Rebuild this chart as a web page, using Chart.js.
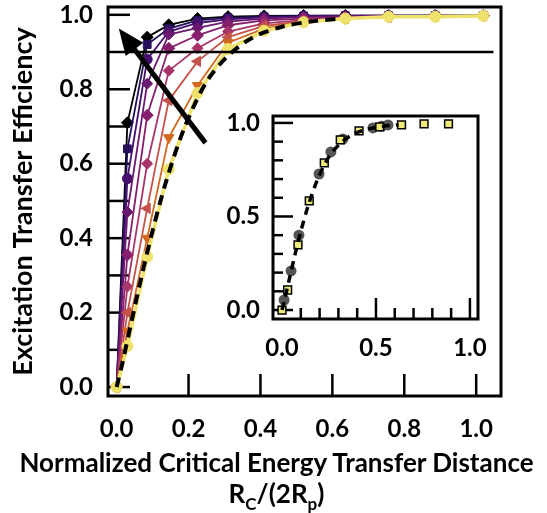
<!DOCTYPE html>
<html><head><meta charset="utf-8">
<script src="https://cdn.jsdelivr.net/npm/chart.js@4.4.0/dist/chart.umd.min.js"></script>
<style>
html,body{margin:0;padding:0;background:#fff;}
#wrap{position:relative;width:547px;height:513px;overflow:hidden;background:#fff;}
#main{position:absolute;left:0;top:0;}
#inset{position:absolute;left:215px;top:106px;}
.xt{position:absolute;left:3px;width:547px;text-align:center;font-family:Lato,sans-serif;font-weight:bold;color:#000;white-space:nowrap;font-size:26px;line-height:32px;}
.sub{font-size:17px;position:relative;top:7px;}
</style></head><body>
<div id="wrap">
<canvas id="main" width="547" height="513"></canvas>
<canvas id="inset" width="273" height="269"></canvas>
<div class="xt" style="top:446px;">Normalized Critical Energy Transfer Distance</div>
<div class="xt" style="top:477px;">R<span class="sub">C</span>/(2R<span class="sub">p</span>)</div>
</div>
<script>
// ---------- data ----------
const xVals   = [0, 0.03, 0.085, 0.145, 0.225, 0.31, 0.41, 0.52, 0.636, 0.756, 0.886, 1.02];
const sBlack  = [0, 0.71, 0.94, 0.973, 0.99, 0.995, 0.997, 0.998, 0.998, 0.998, 0.998, 0.998];
const sNavy   = [0, 0.64, 0.92, 0.963, 0.985, 0.992, 0.995, 0.997, 0.998, 0.998, 0.998, 0.998];
const sIndigo = [0, 0.56, 0.88, 0.955, 0.978, 0.988, 0.993, 0.996, 0.997, 0.998, 0.998, 0.998];
const sPurple = [0, 0.47, 0.815, 0.947, 0.965, 0.982, 0.99, 0.994, 0.996, 0.997, 0.997, 0.997];
const sMagenta= [0, 0.355, 0.73, 0.91, 0.945, 0.972, 0.985, 0.99, 0.994, 0.996, 0.997, 0.997];
const sRed    = [0, 0.27, 0.60, 0.85, 0.91, 0.955, 0.977, 0.986, 0.992, 0.995, 0.996, 0.997];
const sBrown  = [0, 0.20, 0.48, 0.77, 0.875, 0.94, 0.97, 0.983, 0.99, 0.994, 0.996, 0.997];
const sOrange = [0, 0.15, 0.40, 0.67, 0.81, 0.925, 0.963, 0.982, 0.99, 0.994, 0.995, 0.997];
const sYellow = [0, 0.11, 0.35, 0.585, 0.79, 0.908, 0.957, 0.98, 0.99, 0.995, 0.995, 0.997];

const fitX = [0, 0.015, 0.04, 0.07, 0.10, 0.14, 0.19, 0.25, 0.31, 0.38, 0.46, 0.54, 0.62];
const fitY = [0, 0.06, 0.17, 0.30, 0.42, 0.56, 0.70, 0.82, 0.89, 0.94, 0.968, 0.982, 0.99];

const expX = [0.011, 0.048, 0.09, 0.197, 0.26, 0.324, 0.484, 0.53, 0.564];
const expY = [0.053, 0.209, 0.40, 0.727, 0.845, 0.914, 0.973, 0.982, 0.989];

const insetSimX = [0, 0.03, 0.085, 0.145, 0.225, 0.31, 0.41, 0.52, 0.636, 0.756, 0.886];
const insetSimY = [0, 0.107, 0.348, 0.583, 0.786, 0.909, 0.957, 0.979, 0.989, 0.995, 0.995];

const refLineX = [-0.024, 1.048];
const refLineY = 0.9;
const arrowFrom = [0.247, 0.656];
const arrowTo = [0.006, 0.963];

const mainXTicks = [0, 0.2, 0.4, 0.6, 0.8, 1.0];
const mainXTickLabels = ['0.0', '0.2', '0.4', '0.6', '0.8', '1.0'];
const mainYTicks = [0, 0.2, 0.4, 0.6, 0.8, 1.0];
const mainYTickLabels = ['0.0', '0.2', '0.4', '0.6', '0.8', '1.0'];
const insetXTicks = [0, 0.5, 1.0];
const insetXTickLabels = ['0.0', '0.5', '1.0'];
const insetYTicks = [0, 0.5, 1.0];
const insetYTickLabels = ['0.0', '0.5', '1.0'];

// ---------- helpers ----------
const pts = (xs, ys) => xs.map((x, i) => ({x: x, y: ys[i]}));
const FONT = 'Lato';
const tickFont = {family: FONT, weight: 'bold', size: 24};

function series(label, ys, color, style, rot, radius, width, order) {
  return {label: label, data: pts(xVals, ys), borderColor: color, backgroundColor: color,
    pointStyle: style, pointRotation: rot, pointRadius: radius, pointBorderWidth: 1,
    pointBorderColor: color, borderWidth: width, tension: 0, order: order};
}

function fixSize(prop, val) {
  return s => {
    s[prop] = val;
    s.paddingTop = 0; s.paddingBottom = 0; s.paddingLeft = 0; s.paddingRight = 0;
  };
}

function framePlugin(id, marks, frameW) {
  return {
    id: id,
    beforeDatasetsDraw(chart) {
      const ctx = chart.ctx, a = chart.chartArea, xs = chart.scales.x, ys = chart.scales.y;
      ctx.save();
      ctx.strokeStyle = '#000';
      ctx.lineWidth = 2.5;
      marks.y.forEach(m => {
        const p = ys.getPixelForValue(m[0]);
        ctx.beginPath(); ctx.moveTo(a.left, p); ctx.lineTo(a.left + m[1], p); ctx.stroke();
      });
      marks.x.forEach(m => {
        const p = xs.getPixelForValue(m[0]);
        ctx.beginPath(); ctx.moveTo(p, a.bottom); ctx.lineTo(p, a.bottom - m[1]); ctx.stroke();
      });
      ctx.lineWidth = frameW;
      ctx.strokeRect(a.left, a.top, a.right - a.left, a.bottom - a.top);
      ctx.restore();
    }
  };
}

const arrowPlugin = {
  id: 'arrow',
  afterDatasetsDraw(chart) {
    const ctx = chart.ctx, xs = chart.scales.x, ys = chart.scales.y;
    const x0 = xs.getPixelForValue(arrowFrom[0]), y0 = ys.getPixelForValue(arrowFrom[1]);
    const x1 = xs.getPixelForValue(arrowTo[0]), y1 = ys.getPixelForValue(arrowTo[1]);
    const ang = Math.atan2(y1 - y0, x1 - x0);
    const hl = 26, hw = 11;
    const bx = x1 - hl * Math.cos(ang), by = y1 - hl * Math.sin(ang);
    ctx.save();
    ctx.strokeStyle = '#000'; ctx.fillStyle = '#000'; ctx.lineWidth = 5; ctx.lineCap = 'butt';
    ctx.beginPath(); ctx.moveTo(x0, y0); ctx.lineTo(bx + 2 * Math.cos(ang), by + 2 * Math.sin(ang)); ctx.stroke();
    ctx.beginPath();
    ctx.moveTo(x1, y1);
    ctx.lineTo(bx + hw * Math.sin(ang), by - hw * Math.cos(ang));
    ctx.lineTo(bx - hw * Math.sin(ang), by + hw * Math.cos(ang));
    ctx.closePath(); ctx.fill();
    ctx.restore();
  }
};

// ---------- main chart ----------
const mainMarks = {
  y: [0, 0.1, 0.2, 0.3, 0.4, 0.5, 0.6, 0.7, 0.8, 1.0].map(v => [v, 22]),
  x: [0.2, 0.4, 0.6, 0.8, 1.0].map(v => [v, 22])
};

new Chart(document.getElementById('main'), {
  type: 'line',
  data: {
    datasets: [
      {label: 'ref', data: refLineX.map(x => ({x: x, y: refLineY})), borderColor: '#000', borderWidth: 2.5, pointRadius: 0, order: 0},
      {label: 'fit', data: pts(fitX, fitY), borderColor: '#000', borderWidth: 4, borderDash: [10, 7], pointRadius: 0, tension: 0.3, order: 1},
      series('s9', sYellow, '#eee26a', 'circle', 0, 5.5, 3.5, 2),
      series('s8', sOrange, '#d2691f', 'triangle', 180, 6, 1.8, 3),
      series('s7', sBrown, '#c4524a', 'triangle', 270, 6, 1.8, 4),
      series('s6', sRed, '#a8356a', 'rectRot', 0, 5.5, 1.8, 5),
      series('s5', sMagenta, '#87206c', 'rectRot', 0, 6, 1.8, 6),
      series('s4', sPurple, '#6a1870', 'rectRot', 0, 5.5, 1.8, 7),
      series('s3', sIndigo, '#45106e', 'circle', 0, 5, 1.8, 8),
      series('s2', sNavy, '#24105a', 'rect', 0, 5.5, 1.8, 9),
      series('s1', sBlack, '#000000', 'rectRot', 0, 6, 1.8, 10)
    ]
  },
  options: {
    responsive: false, animation: false, devicePixelRatio: 1,
    layout: {padding: {top: 5, right: 46, left: 0, bottom: 0}},
    plugins: {legend: {display: false}, tooltip: {enabled: false}},
    scales: {
      x: {
        type: 'linear', min: -0.024, max: 1.069,
        afterBuildTicks: s => { s.ticks = mainXTicks.map(v => ({value: v})); },
        afterFit: fixSize('height', 117),
        grid: {display: false, drawTicks: false}, border: {display: false},
        ticks: {padding: 19, font: tickFont, color: '#000', maxRotation: 0, autoSkip: false,
          callback: (v, i) => mainXTickLabels[i]}
      },
      y: {
        type: 'linear', min: -0.024, max: 1.021,
        afterBuildTicks: s => { s.ticks = mainYTicks.map(v => ({value: v})); },
        afterFit: fixSize('width', 108),
        grid: {display: false, drawTicks: false}, border: {display: false},
        ticks: {padding: 15, font: tickFont, color: '#000', autoSkip: false,
          callback: (v, i) => mainYTickLabels[i]},
        title: {display: true, text: 'Excitation Transfer Efficiency', color: '#000',
          font: {family: FONT, weight: 'bold', size: 27}, padding: {top: 7, bottom: 0}}
      }
    }
  },
  plugins: [framePlugin('mainFrame', mainMarks, 3), arrowPlugin]
});

// ---------- inset chart ----------
const insetMarks = {
  y: [0.1, 0.2, 0.3, 0.4, 0.6, 0.7, 0.8, 0.9].map(v => [v, 10]).concat([0, 0.5, 1.0].map(v => [v, 20])),
  x: [0.1, 0.2, 0.3, 0.4, 0.6, 0.7, 0.8, 0.9].map(v => [v, 11]).concat([0.5, 1.0].map(v => [v, 21]))
};

const insetWhite = {
  id: 'insetWhite',
  beforeDraw(chart) {
    const a = chart.chartArea, ctx = chart.ctx;
    ctx.save(); ctx.fillStyle = '#fff'; ctx.fillRect(a.left, a.top, a.right - a.left, a.bottom - a.top); ctx.restore();
  }
};

new Chart(document.getElementById('inset'), {
  type: 'line',
  data: {
    datasets: [
      {label: 'fit', data: pts(fitX, fitY), borderColor: '#000', borderWidth: 3.5, borderDash: [8, 6], pointRadius: 0, tension: 0.3, order: 0},
      {label: 'sim', data: pts(insetSimX, insetSimY), showLine: false, pointStyle: 'rect', pointRadius: 5.5,
        backgroundColor: '#efe97a', pointBorderColor: '#000', borderColor: '#000', pointBorderWidth: 1.5, order: 1},
      {label: 'exp', data: pts(expX, expY), showLine: false, pointStyle: 'circle', pointRadius: 5.5,
        backgroundColor: '#555555', pointBorderColor: '#555555', borderColor: '#555555', pointBorderWidth: 0, order: 2}
    ]
  },
  options: {
    responsive: false, animation: false, devicePixelRatio: 1,
    layout: {padding: {top: 10, right: 10, left: 0, bottom: 0}},
    plugins: {legend: {display: false}, tooltip: {enabled: false}},
    scales: {
      x: {
        type: 'linear', min: -0.048, max: 1.043,
        afterBuildTicks: s => { s.ticks = insetXTicks.map(v => ({value: v})); },
        afterFit: fixSize('height', 56),
        grid: {display: false, drawTicks: false}, border: {display: false},
        ticks: {padding: 15, font: tickFont, color: '#000', maxRotation: 0, autoSkip: false,
          callback: (v, i) => insetXTickLabels[i]}
      },
      y: {
        type: 'linear', min: -0.048, max: 1.037,
        afterBuildTicks: s => { s.ticks = insetYTicks.map(v => ({value: v})); },
        afterFit: fixSize('width', 58),
        grid: {display: false, drawTicks: false}, border: {display: false},
        ticks: {padding: 13, font: tickFont, color: '#000', autoSkip: false,
          callback: (v, i) => insetYTickLabels[i]}
      }
    }
  },
  plugins: [insetWhite, framePlugin('insetFrame', insetMarks, 3)]
});
</script>
</body></html>
